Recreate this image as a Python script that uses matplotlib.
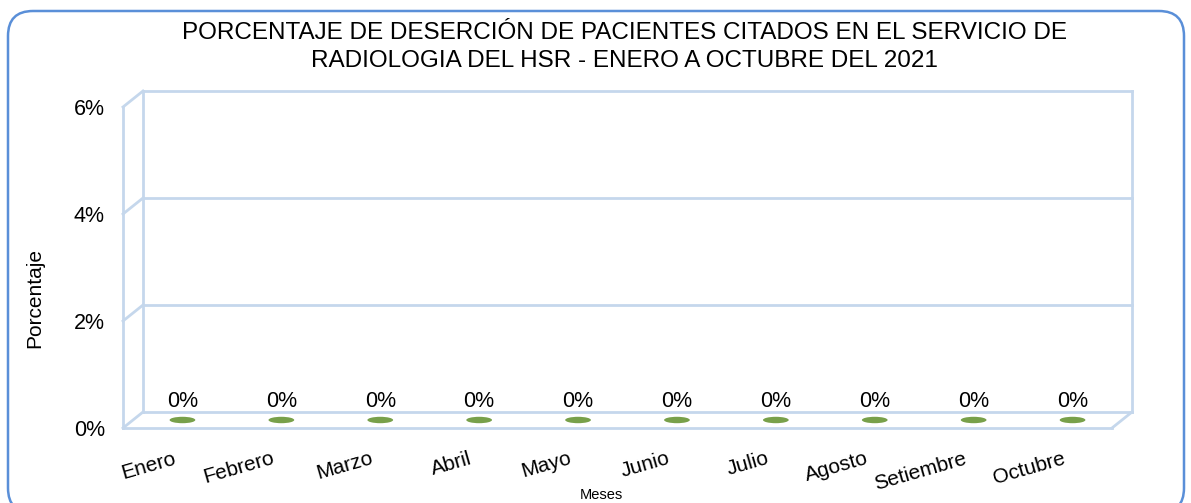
import matplotlib.pyplot as plt
import matplotlib.transforms as mtransforms
from matplotlib.patches import Ellipse, FancyBboxPatch

plt.rcParams['font.family'] = ['Liberation Sans', 'DejaVu Sans']

# data
meses = ["Enero", "Febrero", "Marzo", "Abril", "Mayo", "Junio", "Julio",
         "Agosto", "Setiembre", "Octubre"]
desercion = [0, 0, 0, 0, 0, 0, 0, 0, 0, 0]
yticks = [0, 0.02, 0.04, 0.06]
ytick_labels = ["0%", "2%", "4%", "6%"]

W, H = 1191, 503
fig = plt.figure(figsize=(W / 100, H / 100), dpi=100)

# front plane of the fake 3d box
ax = fig.add_axes([123 / W, 1 - 428 / H, (1112 - 123) / W, (428 - 107) / H])
ax.set_xlim(-0.5, 9.5)
ax.set_ylim(0, 0.06)
for s in ax.spines.values():
    s.set_visible(False)
ax.patch.set_visible(False)

frame_col = "#c5d7ec"
lw = 2
back = ax.transData + mtransforms.ScaledTranslation(0.20, 0.16, fig.dpi_scale_trans)
mid = ax.transData + mtransforms.ScaledTranslation(0.10, 0.08, fig.dpi_scale_trans)
x0, x1 = -0.5, 9.5

# back wall + gridlines
for y in yticks:
    ax.plot([x0, x1], [y, y], color=frame_col, lw=lw, transform=back, clip_on=False)
ax.plot([x0, x0], [0, 0.06], color=frame_col, lw=lw, transform=back, clip_on=False)
ax.plot([x1, x1], [0, 0.06], color=frame_col, lw=lw, transform=back, clip_on=False)

# left wall
ax.plot([x0, x0], [0, 0.06], color=frame_col, lw=lw, clip_on=False)
for y in yticks:
    p_front = ax.transData.transform((x0, y))
    p_back = back.transform((x0, y))
    fig.add_artist(plt.Line2D([p_front[0], p_back[0]], [p_front[1], p_back[1]],
                              color=frame_col, lw=lw, transform=None))

# floor front edge and right diagonal
ax.plot([x0, x1], [0, 0], color=frame_col, lw=lw, clip_on=False)
p_front = ax.transData.transform((x1, 0))
p_back = back.transform((x1, 0))
fig.add_artist(plt.Line2D([p_front[0], p_back[0]], [p_front[1], p_back[1]],
                          color=frame_col, lw=lw, transform=None))

# flat bars (value 0) as ellipses on the floor
for i, v in enumerate(desercion):
    e = Ellipse((i, v), 0.26, 0.0012, transform=mid, facecolor="#78a04a",
                edgecolor="none", clip_on=False)
    ax.add_patch(e)
    ax.annotate(f"{v:.0%}", (i, v), xycoords=mid, xytext=(0, 13),
                textcoords="offset points", ha="center", va="center", fontsize=15.5)

ax.set_yticks(yticks)
ax.set_yticklabels(ytick_labels, fontsize=15.5)
ax.set_xticks(range(len(meses)))
ax.set_xticklabels(meses, fontsize=15, rotation=16, ha="right", rotation_mode="anchor")
ax.tick_params(axis="y", length=0, pad=13)
ax.tick_params(axis="x", length=0, pad=15)

fig.text(35 / W, 1 - 298 / H, "Porcentaje", rotation=90, ha="center", va="center", fontsize=15)
fig.text(601 / W, 1 - 495 / H, "Meses", ha="center", va="center", fontsize=10.5)
fig.text(624 / W, 1 - 47 / H,
         "PORCENTAJE DE DESERCIÓN DE PACIENTES CITADOS EN EL SERVICIO DE\n"
         "RADIOLOGIA DEL HSR - ENERO A OCTUBRE DEL 2021",
         ha="center", va="center", fontsize=17.5, linespacing=1.3)

# rounded outer border
border = FancyBboxPatch((8, -10), 1176, 502, boxstyle="round,pad=0,rounding_size=25",
                        transform=mtransforms.IdentityTransform(), facecolor="none",
                        edgecolor="#5a8fd8", lw=1.8)
fig.add_artist(border)

fig.savefig("out.png", dpi=100)
